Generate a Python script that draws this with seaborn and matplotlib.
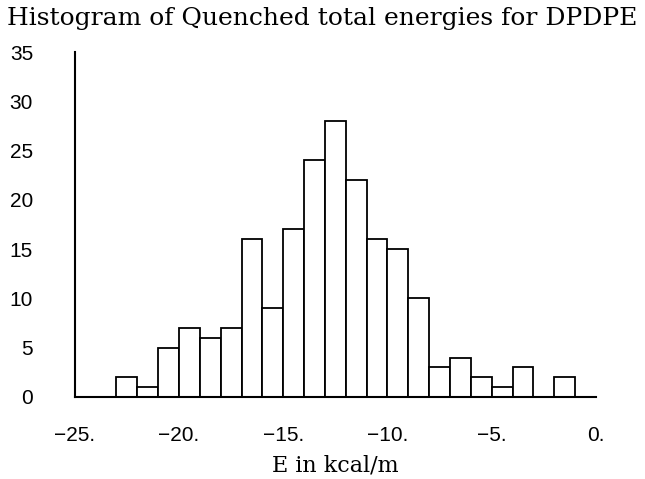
import numpy as np
import pandas as pd
import matplotlib
matplotlib.use("Agg")
import matplotlib.pyplot as plt
import seaborn as sns

# histogram of quenched energies, 1 kcal/m bins from -23 to -1
bin_edges = list(range(-23, 0))
counts = [2, 1, 5, 7, 6, 7, 16, 9, 17, 24, 28, 22, 16, 15, 10, 3, 4, 2, 1, 3, 0, 2]
x_ticks = [-25, -20, -15, -10, -5, 0]
x_tick_labels = ["\u221225.", "\u221220.", "\u221215.", "\u221210.", "\u22125.", "0."]
y_ticks = [0, 5, 10, 15, 20, 25, 30, 35]

sns.set_style("white")
plt.rcParams["font.family"] = ["Liberation Sans", "DejaVu Sans"]
plt.rcParams["text.color"] = "black"
plt.rcParams["xtick.color"] = "black"
plt.rcParams["ytick.color"] = "black"
plt.rcParams["axes.labelcolor"] = "black"

df = pd.DataFrame({
    "energy": [lo + 0.5 for lo in bin_edges[:-1]],
    "count": counts,
})

fig = plt.figure(figsize=(6.45, 4.79), dpi=100)
ax = fig.add_axes([74.7 / 645, 82 / 479, (596 - 74.7) / 645, (397 - 52) / 479])

sns.histplot(
    data=df, x="energy", weights="count", bins=bin_edges,
    color="white", edgecolor="black", linewidth=1.3, alpha=1, ax=ax,
)

ax.set_xlim(-25, 0)
ax.set_ylim(0, 35)
ax.set_xticks(x_ticks)
ax.set_xticklabels(x_tick_labels)
ax.set_yticks(y_ticks)
ax.tick_params(axis="y", direction="in", length=9, width=1.2, pad=30, labelsize=15)
ax.tick_params(axis="x", length=0, pad=21, labelsize=15)
for lbl in ax.get_yticklabels():
    lbl.set_horizontalalignment("right")

sns.despine(ax=ax)
for side in ["left", "bottom"]:
    ax.spines[side].set_linewidth(1.5)
    ax.spines[side].set_color("black")

ax.set_ylabel("")
ax.set_xlabel("E in kcal/m", family="DejaVu Serif", fontsize=16, labelpad=7)
fig.text(0.5, 0.985, "Histogram of Quenched total energies for DPDPE",
         ha="center", va="top", family="DejaVu Serif", fontsize=18)

fig.savefig("out.png", dpi=100)
